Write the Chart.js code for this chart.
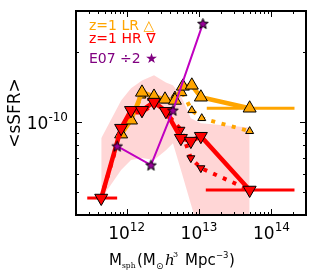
<!DOCTYPE html>
<html><head><meta charset="utf-8">
<script src="https://cdn.jsdelivr.net/npm/chart.js@4"></script>
<style>html,body{margin:0;padding:0;background:#fff;}</style>
</head><body>
<canvas id="c" width="315" height="275"></canvas>
<script>
// ---- data ----
const hrMass   = [4.46e11, 8.4e11, 1.15e12, 1.63e12, 2.39e12, 3.49e12, 5.62e12, 7.71e12, 1.06e13, 5.0e13];
const hrSSFR   = [4.73e-11, 9.43e-11, 1.125e-10, 1.125e-10, 1.22e-10, 1.114e-10, 8.54e-11, 8.3e-11, 8.71e-11, 5.12e-11];
const hrsMass  = [4.46e11, 8.4e11, 1.15e12, 1.63e12, 2.39e12, 3.49e12, 5.62e12, 7.71e12, 1.06e13, 5.0e13];
const hrsSSFR  = [4.73e-11, 9.2e-11, 1.10e-10, 1.10e-10, 1.2e-10, 1.10e-10, 9.3e-11, 7.02e-11, 6.36e-11, 5.12e-11];
const hrErrLeftMass  = [2.86e11, 7.4e11];
const hrErrLeftSSFR  = [4.73e-11, 4.73e-11];
const hrErrRightMass = [1.24e13, 2.08e14];
const hrErrRightSSFR = [5.12e-11, 5.12e-11];

const lrMass   = [8.4e11, 1.15e12, 1.63e12, 2.39e12, 3.39e12, 4.65e12, 5.98e12, 7.95e12, 1.06e13, 5.0e13];
const lrSSFR   = [8.89e-11, 1.02e-10, 1.343e-10, 1.29e-10, 1.254e-10, 1.24e-10, 1.425e-10, 1.44e-10, 1.28e-10, 1.148e-10];
const lrsMass  = [8.4e11, 1.15e12, 1.63e12, 2.39e12, 3.39e12, 4.65e12, 5.98e12, 7.95e12, 1.09e13, 5.0e13];
const lrsSSFR  = [9.06e-11, 1.04e-10, 1.30e-10, 1.24e-10, 1.24e-10, 1.30e-10, 1.33e-10, 1.125e-10, 1.04e-10, 9.15e-11];
const lrErrMass = [1.28e13, 2.08e14];
const lrErrSSFR = [1.148e-10, 1.148e-10];

const e07Mass  = [7.4e11, 2.17e12, 4.36e12, 1.13e13];
const e07SSFR  = [7.9e-11, 6.55e-11, 1.125e-10, 2.65e-10];

const bandMass  = [4.46e11, 8.4e11, 1.15e12, 1.63e12, 2.39e12, 3.49e12, 4.36e12, 5.62e12, 7.71e12, 1.06e13, 5.0e13];
const bandUpper = [8.54e-11, 1.24e-10, 1.40e-10, 1.51e-10, 1.59e-10, 1.48e-10, 1.44e-10, 1.30e-10, 1.04e-10, 9.9e-11, 9.5e-11];
const bandLower = [4.7e-11, 6.24e-11, 6.88e-11, 7.02e-11, 6.88e-11, 7.59e-11, 8.13e-11, 6.24e-11, 4.46e-11, 3.19e-11, 2.57e-11];

const xTickExps = [12, 13, 14];
const yTickExps = [-10];
const legendLines = [
  {text: 'z=1 LR \u25B3', color: '#ffa500'},
  {text: 'z=1 HR \u2207', color: '#ff0000'},
  {text: 'E07 \u00F72 \u2605', color: '#800080'}
];

const pts = (xs, ys) => xs.map((x, i) => ({x: x, y: ys[i]}));

// star marker
function makeStar(r, fill) {
  const c = document.createElement('canvas');
  const s = Math.ceil(r * 2 + 3);
  c.width = s; c.height = s;
  const g = c.getContext('2d');
  const cx = s / 2, cy = s / 2 + 0.5;
  g.beginPath();
  for (let i = 0; i < 10; i++) {
    const rr = i % 2 === 0 ? r : r * 0.42;
    const a = -Math.PI / 2 + i * Math.PI / 5;
    const px = cx + rr * Math.cos(a), py = cy + rr * Math.sin(a);
    if (i === 0) g.moveTo(px, py); else g.lineTo(px, py);
  }
  g.closePath();
  g.fillStyle = fill; g.fill();
  g.lineWidth = 1; g.strokeStyle = '#000'; g.stroke();
  return c;
}
const star = makeStar(5.6, '#9a009a');

const deco = {
  id: 'deco',
  afterDraw(chart) {
    const ctx = chart.ctx, a = chart.chartArea;
    const xs = chart.scales.x, ys = chart.scales.y;
    ctx.save();
    // ticks
    ctx.strokeStyle = '#000'; ctx.lineWidth = 1;
    const xt = [];
    for (let e = 11; e <= 14; e++) for (let m = 1; m <= 9; m++) {
      const v = m * Math.pow(10, e);
      if (v >= xs.min * 0.999 && v <= xs.max * 1.001) xt.push([v, m === 1]);
    }
    xt.forEach(([v, maj]) => {
      const p = Math.round(xs.getPixelForValue(v)) + 0.5;
      const L = maj ? 6 : 3;
      ctx.beginPath();
      ctx.moveTo(p, a.bottom); ctx.lineTo(p, a.bottom - L);
      ctx.moveTo(p, a.top); ctx.lineTo(p, a.top + L);
      ctx.stroke();
    });
    const yt = [];
    for (let e = -11; e <= -10; e++) for (let m = 1; m <= 9; m++) {
      const v = m * Math.pow(10, e);
      if (v >= ys.min * 0.999 && v <= ys.max * 1.001) yt.push([v, m === 1]);
    }
    yt.forEach(([v, maj]) => {
      const p = Math.round(ys.getPixelForValue(v)) + 0.5;
      const L = maj ? 6 : 3;
      ctx.beginPath();
      ctx.moveTo(a.left, p); ctx.lineTo(a.left + L, p);
      ctx.moveTo(a.right, p); ctx.lineTo(a.right - L, p);
      ctx.stroke();
    });
    // frame
    ctx.lineWidth = 2;
    ctx.strokeRect(a.left, a.top, a.right - a.left, a.bottom - a.top);

    ctx.fillStyle = '#000';
    ctx.textBaseline = 'alphabetic';
    // x tick labels
    xTickExps.forEach(e => {
      const p = xs.getPixelForValue(Math.pow(10, e));
      ctx.font = '17px "DejaVu Sans"';
      const w1 = ctx.measureText('10').width;
      ctx.font = '12px "DejaVu Sans"';
      const w2 = ctx.measureText(String(e)).width;
      const x0 = p - (w1 + w2) / 2;
      ctx.font = '17px "DejaVu Sans"';
      ctx.textAlign = 'left';
      ctx.fillText('10', x0, 239);
      ctx.font = '12px "DejaVu Sans"';
      ctx.fillText(String(e), x0 + w1, 231);
    });
    // y tick labels
    yTickExps.forEach(e => {
      const p = ys.getPixelForValue(Math.pow(10, e));
      ctx.font = '12px "DejaVu Sans"';
      const w2 = ctx.measureText(String(e)).width;
      ctx.font = '17px "DejaVu Sans"';
      const w1 = ctx.measureText('10').width;
      const xEnd = 68;
      ctx.textAlign = 'left';
      ctx.fillText('10', xEnd - w2 - w1, p + 6.5);
      ctx.font = '12px "DejaVu Sans"';
      ctx.fillText(String(e), xEnd - w2, p - 1.5);
    });
    // legend text
    ctx.textAlign = 'left';
    ctx.font = '14px "DejaVu Sans"';
    legendLines.forEach((l, i) => {
      ctx.fillStyle = l.color;
      ctx.fillText(l.text, 89, [30, 43, 63][i]);
    });
    // y label
    ctx.fillStyle = '#000';
    ctx.save();
    ctx.translate(20, 113);
    ctx.rotate(-Math.PI / 2);
    ctx.textAlign = 'center';
    ctx.font = '17px "DejaVu Sans"';
    ctx.fillText('<sSFR>', 0, 0);
    ctx.restore();
    // x label
    const by = 265;
    ctx.textAlign = 'left';
    const at = (t, font, xx, dy) => { ctx.font = font; ctx.fillText(t, xx, by + dy); };
    at('M', '15px "DejaVu Sans"', 109, 0);
    at('sph', '7.5px "DejaVu Serif"', 122, 3);
    at('(M', '15px "DejaVu Sans"', 137, 0);
    at('\u2299', '9px "DejaVu Sans"', 156, 4);
    at('h', 'italic 15px "DejaVu Serif"', 165, 0);
    at('3', '8px "DejaVu Serif"', 173, -8);
    at('Mpc', '15px "DejaVu Sans"', 185, 0);
    at('\u22123', '8.5px "DejaVu Sans"', 216, -7);
    at(')', '15px "DejaVu Sans"', 229, 0);
    ctx.restore();
  }
};

new Chart(document.getElementById('c'), {
  type: 'line',
  data: {
    datasets: [
      // top-most first
      {data: pts(e07Mass, e07SSFR), borderColor: '#c000c0', borderWidth: 2, pointStyle: star, order: 1},
      {data: pts(hrMass, hrSSFR), borderColor: '#ff0000', borderWidth: 4.5, pointStyle: 'triangle', rotation: 180,
       pointRadius: 7.5, backgroundColor: '#ff0000', pointBorderColor: '#000', pointBorderWidth: 1, order: 2},
      {data: pts(hrErrLeftMass, hrErrLeftSSFR), borderColor: '#ff0000', borderWidth: 3, pointRadius: 0, order: 3},
      {data: pts(hrErrRightMass, hrErrRightSSFR), borderColor: '#ff0000', borderWidth: 3, pointRadius: 0, order: 3},
      {data: pts(hrsMass, hrsSSFR), borderColor: '#ff0000', borderWidth: 4, borderDash: [4, 6.6], pointStyle: 'triangle', rotation: 180,
       pointRadius: 4.6, backgroundColor: '#ff0000', pointBorderColor: '#000', pointBorderWidth: 1, order: 4},
      {data: pts(lrMass, lrSSFR), borderColor: '#ffa500', borderWidth: 4.5, pointStyle: 'triangle',
       pointRadius: 7.5, backgroundColor: '#ffa500', pointBorderColor: '#000', pointBorderWidth: 1, order: 5},
      {data: pts(lrErrMass, lrErrSSFR), borderColor: '#ffa500', borderWidth: 3, pointRadius: 0, order: 6},
      {data: pts(lrsMass, lrsSSFR), borderColor: '#ffa500', borderWidth: 4, borderDash: [4, 6.6], pointStyle: 'triangle',
       pointRadius: 4.6, backgroundColor: '#ffa500', pointBorderColor: '#000', pointBorderWidth: 1, order: 7},
      {data: pts(bandMass, bandUpper), borderWidth: 0, pointRadius: 0, borderColor: 'rgba(0,0,0,0)', order: 9, clip: 0},
      {data: pts(bandMass, bandLower), borderWidth: 0, pointRadius: 0, borderColor: 'rgba(0,0,0,0)', order: 8, clip: 0,
       fill: 8, backgroundColor: 'rgba(255,0,0,0.16)'}
    ]
  },
  options: {
    responsive: false,
    animation: false,
    events: [],
    layout: {padding: {left: 76, right: 9, top: 11, bottom: 60}},
    elements: {line: {tension: 0}},
    plugins: {legend: {display: false}, tooltip: {enabled: false}},
    scales: {
      x: {type: 'logarithmic', min: 2e11, max: 3e14, display: false},
      y: {type: 'logarithmic', min: 4e-11, max: 3e-10, display: false}
    }
  },
  plugins: [deco]
});
</script>
</body></html>
